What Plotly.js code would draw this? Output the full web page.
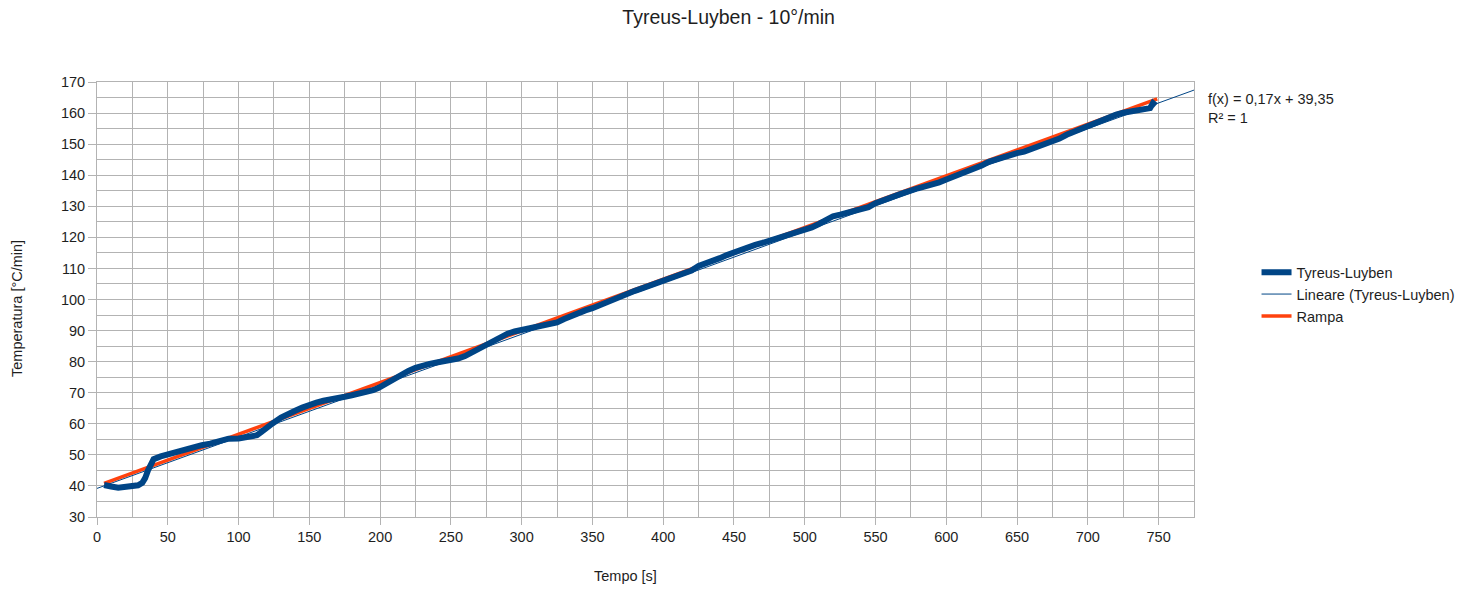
<!DOCTYPE html>
<html>
<head>
<meta charset="utf-8">
<script src="https://cdn.plot.ly/plotly-3.0.1.min.js"></script>
<style>
  html, body { margin: 0; padding: 0; background: #ffffff; }
  #chart { width: 1472px; height: 589px; }
</style>
</head>
<body>
<div id="chart"></div>
<script>
// Measured temperature (Tyreus-Luyben tuning), time in seconds
const tempoTL = [5, 8, 10, 15, 20, 25, 29, 32, 34, 36, 38, 40, 45, 50, 55, 60, 65, 70, 74, 80,
  85, 90, 93, 100, 105, 110, 113, 116, 120, 124, 130, 135, 140, 145, 149, 155, 160, 165, 170, 175,
  180, 185, 190, 195, 199, 205, 210, 215, 220, 225, 230, 235, 240, 245, 250, 255, 260, 265, 270, 275,
  280, 285, 290, 295, 300, 305, 310, 315, 320, 325, 330, 335, 340, 345, 350, 355, 360, 365, 370, 375,
  380, 385, 390, 395, 400, 405, 410, 415, 420, 425, 430, 435, 440, 445, 450, 455, 460, 465, 470, 475,
  480, 485, 490, 495, 500, 505, 510, 515, 520, 525, 530, 535, 540, 545, 550, 555, 560, 565, 570, 575,
  580, 585, 590, 595, 600, 605, 610, 615, 620, 625, 630, 635, 640, 645, 650, 655, 660, 665, 670, 675,
  680, 685, 690, 695, 700, 705, 710, 715, 720, 725, 730, 735, 740, 744, 746, 748];
const tempTL = [40.3, 39.7, 39.8, 39.4, 39.7, 39.9, 40.2, 41.0, 42.5, 45.0, 47.5, 48.6, 49.5, 50.2, 50.9, 51.5, 52.1, 52.7, 53.1, 53.6,
  54.2, 54.8, 55.2, 55.3, 55.6, 55.8, 56.3, 57.3, 59.0, 60.1, 62.0, 63.3, 64.2, 65.2, 66.0, 66.8, 67.4, 68.0, 68.3, 68.7,
  69.2, 69.6, 70.2, 70.8, 71.6, 73.2, 74.8, 76.0, 77.0, 78.0, 78.8, 79.3, 79.7, 80.1, 80.5, 81.0, 81.8, 83.0, 84.5, 85.8,
  87.0, 88.2, 89.0, 89.7, 90.2, 90.6, 91.2, 91.7, 92.2, 92.6, 93.7, 94.8, 95.8, 96.5, 97.2, 98.2, 99.0, 100.0, 101.0, 102.1,
  102.8, 103.6, 104.4, 105.2, 106.0, 106.8, 107.7, 108.4, 109.3, 110.8, 111.5, 112.5, 113.3, 114.3, 115.2, 116.1, 116.9, 117.6, 118.2, 118.9,
  119.6, 120.3, 121.0, 121.7, 122.3, 123.2, 124.3, 125.6, 126.8, 127.3, 128.0, 128.7, 129.1, 129.7, 131.0, 132.0, 132.9, 133.5, 134.3, 135.2,
  135.8, 136.4, 136.9, 137.7, 138.6, 139.5, 140.4, 140.9, 142.0, 143.1, 144.3, 145.1, 145.6, 146.4, 147.1, 147.6, 148.4, 149.3, 150.1, 151.0,
  151.8, 153.0, 154.0, 155.0, 155.6, 156.5, 157.5, 158.8, 159.5, 160.1, 160.4, 160.8, 161.2, 161.6, 163.2, 162.4];

// Set-point ramp (10 °C/min)
const tempoRampa = [5, 749];
const tempRampa = [40.8, 164.6];

// Linear trend line of the measured series, end points
const tempoTrend = [0, 775];
const tempTrend = [39.2, 167.4];

const xTickVals = [0, 50, 100, 150, 200, 250, 300, 350, 400, 450, 500, 550, 600, 650, 700, 750];
const yTickVals = [30, 40, 50, 60, 70, 80, 90, 100, 110, 120, 130, 140, 150, 160, 170];

const FONT = '"Liberation Sans", Arial, sans-serif';
const TXT = '#1e1e1e';
const GRID = '#b3b3b3';

const traces = [
  {
    x: tempoRampa, y: tempRampa, name: 'Rampa', type: 'scatter', mode: 'lines',
    line: { color: '#ff420e', width: 3.5 }, legendrank: 3
  },
  {
    x: tempoTL, y: tempTL, name: 'Tyreus-Luyben', type: 'scatter', mode: 'lines',
    line: { color: '#004586', width: 6 }, legendrank: 1
  },
  {
    x: tempoTrend, y: tempTrend, name: 'Lineare (Tyreus-Luyben)', type: 'scatter', mode: 'lines',
    line: { color: '#004586', width: 1 }, legendrank: 2
  }
];

const layout = {
  width: 1472, height: 589,
  margin: { l: 97, r: 278, t: 82, b: 72 },
  paper_bgcolor: '#ffffff', plot_bgcolor: '#ffffff',
  font: { family: FONT, size: 14.5, color: TXT },
  title: {
    text: 'Tyreus-Luyben - 10°/min',
    font: { family: FONT, size: 19.5, color: TXT },
    xref: 'container', x: 0.495, xanchor: 'center',
    yref: 'container', y: 0.971, yanchor: 'middle'
  },
  xaxis: {
    range: [0, 775], tickmode: 'array', tickvals: xTickVals,
    ticks: 'outside', ticklen: 7, tickcolor: GRID, tickwidth: 1,
    showgrid: true, gridcolor: GRID, gridwidth: 1,
    minor: { dtick: 25, tick0: 0, showgrid: true, gridcolor: GRID, gridwidth: 1, ticks: '' },
    showline: true, linecolor: GRID, linewidth: 1, mirror: true,
    zeroline: false, tickfont: { family: FONT, size: 14.5, color: TXT }
  },
  yaxis: {
    range: [30, 170], tickmode: 'array', tickvals: yTickVals,
    ticks: 'outside', ticklen: 8, tickcolor: GRID, tickwidth: 1,
    showgrid: true, gridcolor: GRID, gridwidth: 1,
    minor: { dtick: 5, tick0: 0, showgrid: true, gridcolor: GRID, gridwidth: 1, ticks: '' },
    showline: true, linecolor: GRID, linewidth: 1, mirror: true,
    zeroline: false, tickfont: { family: FONT, size: 14.5, color: TXT }
  },
  showlegend: true,
  legend: {
    x: 1.057, xanchor: 'left', y: 0.512, yanchor: 'middle',
    font: { family: FONT, size: 14.5, color: TXT },
    bgcolor: 'rgba(0,0,0,0)', tracegroupgap: 0, itemwidth: 30
  },
  annotations: [
    { text: 'f(x) = 0,17x + 39,35', xref: 'paper', yref: 'paper', x: 1.011, y: 0.961,
      xanchor: 'left', yanchor: 'middle', showarrow: false, font: { family: FONT, size: 14.5, color: TXT } },
    { text: 'R² = 1', xref: 'paper', yref: 'paper', x: 1.011, y: 0.917,
      xanchor: 'left', yanchor: 'middle', showarrow: false, font: { family: FONT, size: 14.5, color: TXT } },
    { text: 'Tempo [s]', xref: 'paper', yref: 'paper', x: (625 - 97) / 1097, y: -(576 - 517) / 435,
      xanchor: 'center', yanchor: 'middle', showarrow: false, font: { family: FONT, size: 14.5, color: TXT } },
    { text: 'Temperatura [°C/min]', xref: 'paper', yref: 'paper', x: -(97 - 17) / 1097, y: (517 - 309) / 435,
      xanchor: 'center', yanchor: 'middle', textangle: -90, showarrow: false, font: { family: FONT, size: 14.5, color: TXT } }
  ]
};

Plotly.newPlot('chart', traces, layout, { staticPlot: true, displayModeBar: false });
</script>
</body>
</html>
